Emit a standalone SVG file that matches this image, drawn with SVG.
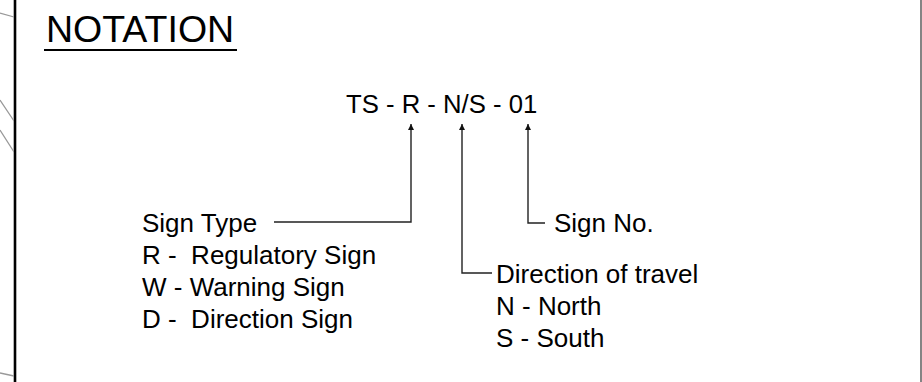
<svg xmlns="http://www.w3.org/2000/svg" width="922" height="382" viewBox="0 0 922 382">
<defs>
<style>
.t{font-family:"Liberation Sans",Arial,sans-serif;fill:#000;}
.lbl{font-size:26px;}
.c{fill:none;stroke:#222;stroke-width:1.4;}
.g{fill:none;stroke:#999;stroke-width:1.3;}
</style>
<marker id="ah" viewBox="0 0 10 10" refX="10" refY="5" markerWidth="11" markerHeight="6" markerUnits="userSpaceOnUse" orient="auto">
<path d="M0,0 L10,5 L0,10 Z" fill="#111"/>
</marker>
</defs>
<rect width="922" height="382" fill="#fff"/>
<g id="frame">
<path class="g" d="M0,13 L14,17 M0,100 L14,121 M0,130 L14,152 M0,373 L14,376"/>
<line x1="15" y1="0" x2="15" y2="382" stroke="#999" stroke-width="3.5"/>
<line x1="15" y1="0" x2="15" y2="382" stroke="#000" stroke-width="2"/>
<line x1="921" y1="0" x2="921" y2="382" stroke="#333" stroke-width="1.2"/>
</g>
<g id="title">
<text class="t" x="46" y="42" font-size="37.5">NOTATION</text>
<line x1="44" y1="50" x2="237" y2="50" stroke="#000" stroke-width="2"/>
</g>
<g id="code">
<text class="t" x="346" y="113" font-size="25.7">TS - R - N/S - 01</text>
</g>
<g id="connectors">
<polyline class="c" points="274,222 411,222 411,124" marker-end="url(#ah)"/>
<polyline class="c" points="492,273 462,273 462,124" marker-end="url(#ah)"/>
<polyline class="c" points="545,223 528,223 528,124" marker-end="url(#ah)"/>
</g>
<g id="sign-type">
<text class="t lbl" x="142" y="232">Sign Type</text>
<text class="t lbl" x="142" y="264" xml:space="preserve">R -  Regulatory Sign</text>
<text class="t lbl" x="142" y="296">W - Warning Sign</text>
<text class="t lbl" x="142" y="328" xml:space="preserve">D -  Direction Sign</text>
</g>
<g id="sign-no">
<text class="t lbl" x="554" y="232">Sign No.</text>
</g>
<g id="direction">
<text class="t lbl" x="496" y="283">Direction of travel</text>
<text class="t lbl" x="496" y="315">N - North</text>
<text class="t lbl" x="496" y="347">S - South</text>
</g>
</svg>
